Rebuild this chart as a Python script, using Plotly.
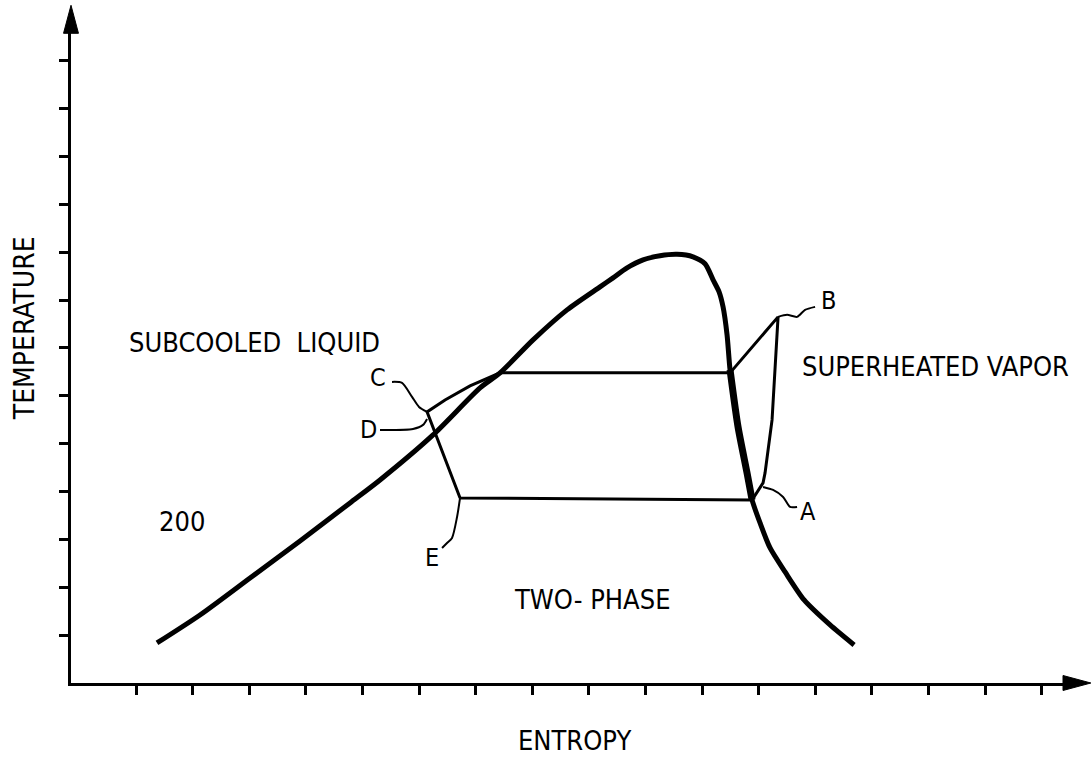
import plotly.graph_objects as go

# Saturation dome (entropy units, temperature units)
dome_s = [1.519, 2.279, 3.163, 4.046, 4.929, 5.459, 6.396, 7.226, 7.580, 8.163, 8.763, 9.346,
          9.576, 9.823, 10.106, 10.406, 10.707, 10.989, 11.201, 11.343, 11.449, 11.519, 11.590,
          11.643, 11.784, 11.943, 12.032, 12.173, 12.350, 12.615, 12.951, 13.410, 13.834]
dome_t = [0.836, 1.421, 2.194, 2.968, 3.762, 4.242, 5.183, 6.165, 6.479, 7.168, 7.795, 8.276,
          8.464, 8.673, 8.840, 8.924, 8.955, 8.903, 8.757, 8.422, 8.171, 7.858, 7.273,
          6.541, 5.350, 4.389, 3.824, 3.344, 2.821, 2.320, 1.735, 1.212, 0.794]

# Thick vapor segment between the two pressure lines
vap_s = [11.643, 11.784, 11.943, 12.032]
vap_t = [6.541, 5.350, 4.389, 3.824]

# Cycle E -> C -> condenser -> B -> A -> evaporator -> E
cycle_s = [6.873, 6.290, 6.608, 7.049, 7.580, 11.643, 12.491, 12.456, 12.385, 12.261, 12.226, 12.032, 6.873]
cycle_t = [3.866, 5.664, 5.914, 6.207, 6.479, 6.479, 7.649, 6.897, 5.496, 4.389, 4.180, 3.824, 3.866]

# Leader lines for point labels
lead_c_s = [5.671, 5.848, 6.025, 6.148, 6.290]
lead_c_t = [6.290, 6.270, 5.977, 5.768, 5.664]
lead_d_s = [5.459, 6.042, 6.219, 6.290]
lead_d_t = [5.287, 5.308, 5.392, 5.517]
lead_e_s = [6.873, 6.820, 6.731, 6.643, 6.555]
lead_e_t = [3.866, 3.469, 3.030, 2.926, 2.821]
lead_a_s = [12.226, 12.403, 12.580, 12.703, 12.827]
lead_a_t = [4.096, 4.033, 3.887, 3.678, 3.678]
lead_b_s = [12.491, 12.650, 12.827, 12.968, 13.145]
lead_b_t = [7.649, 7.691, 7.649, 7.795, 7.858]

point_labels = ["A", "B", "C", "D", "E"]
point_s = [13.021, 13.375, 5.424, 5.247, 6.378]
point_t = [3.574, 7.983, 6.374, 5.287, 2.612]

region_labels = ["SUBCOOLED&nbsp;&nbsp;LIQUID", "SUPERHEATED VAPOR", "TWO- PHASE", "200"]
region_s = [0.989, 12.870, 7.790, 1.519]
region_t = [7.120, 6.604, 1.735, 3.365]

x_tick_positions = [1.15, 2.15, 3.15, 4.15, 5.15, 6.15, 7.15, 8.15, 9.15, 10.15,
                    11.15, 12.15, 13.15, 14.15, 15.15, 16.15, 17.15]
y_tick_positions = [1, 2, 3, 4, 5, 6, 7, 8, 9, 10, 11, 12, 13]

FONT = "Liberation Sans Narrow, DejaVu Sans Condensed, Arial Narrow, sans-serif"

fig = go.Figure()
line_sets = [
    (dome_s, dome_t, 5, "spline"),
    (vap_s, vap_t, 7, "spline"),
    (cycle_s, cycle_t, 3, "linear"),
    (lead_c_s, lead_c_t, 2, "spline"),
    (lead_d_s, lead_d_t, 2, "spline"),
    (lead_e_s, lead_e_t, 2, "spline"),
    (lead_a_s, lead_a_t, 2, "spline"),
    (lead_b_s, lead_b_t, 2, "spline"),
]
for xs, ys, w, shp in line_sets:
    fig.add_trace(go.Scatter(
        x=xs, y=ys, mode="lines",
        line=dict(color="black", width=w, shape=shp, smoothing=0.7),
        hoverinfo="skip", showlegend=False, cliponaxis=False))

for lab, s, t in zip(point_labels, point_s, point_t):
    fig.add_annotation(x=s, y=t, text=lab, showarrow=False,
                       xanchor="center", yanchor="middle",
                       font=dict(family=FONT, size=25, color="black"))
for lab, s, t in zip(region_labels, region_s, region_t):
    fig.add_annotation(x=s, y=t, text=lab, showarrow=False, xanchor="left", yanchor="middle",
                       font=dict(family=FONT, size=27, color="black"))

fig.add_annotation(xref="paper", yref="paper", x=0.507, y=-0.089, text="ENTROPY",
                   xanchor="center", yanchor="middle",
                   showarrow=False, font=dict(family=FONT, size=27, color="black"))
fig.add_annotation(xref="paper", yref="paper", x=-0.0473, y=0.545, text="TEMPERATURE",
                   xanchor="center", yanchor="middle",
                   showarrow=False, textangle=-90,
                   font=dict(family=FONT, size=28, color="black"))

# axis arrowheads
fig.add_shape(type="path", xref="paper", yref="paper",
              path="M -0.0075 0.998 L 0 1.041 L 0.0075 0.998 Z",
              fillcolor="black", line=dict(color="black", width=1))
fig.add_shape(type="path", xref="paper", yref="paper",
              path="M 0.998 -0.0115 L 1.026 0 L 0.998 0.0115 Z",
              fillcolor="black", line=dict(color="black", width=1))

fig.update_xaxes(range=[0, 17.56], showline=True, linecolor="black", linewidth=3,
                 ticks="outside", ticklen=9, tickwidth=3, tickcolor="black",
                 tickmode="array", tickvals=x_tick_positions,
                 showticklabels=False, showgrid=False, zeroline=False)
fig.update_yaxes(range=[0, 13.6], showline=True, linecolor="black", linewidth=3,
                 ticks="outside", ticklen=9, tickwidth=3, tickcolor="black",
                 tickmode="array", tickvals=y_tick_positions,
                 showticklabels=False, showgrid=False, zeroline=False)

fig.update_layout(width=1091, height=757, margin=dict(l=71, r=26, t=32, b=74),
                  plot_bgcolor="white", paper_bgcolor="white")

fig.write_html("out.html", config={"displayModeBar": False},
               post_script="document.body.style.margin='0px';document.body.style.overflow='hidden';")
